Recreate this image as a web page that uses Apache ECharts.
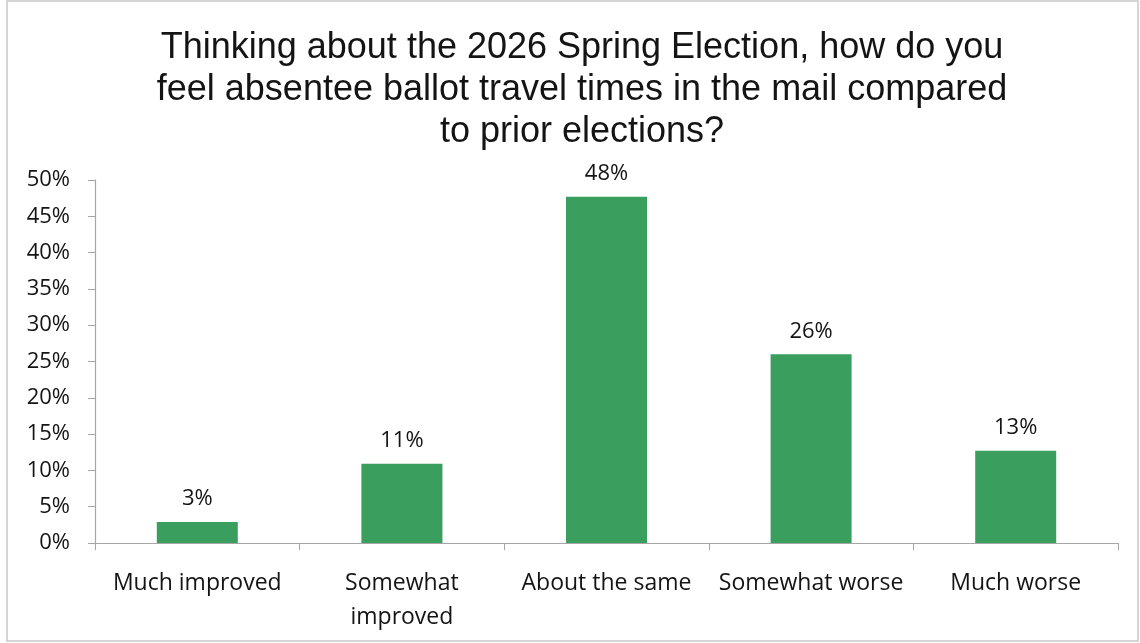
<!DOCTYPE html>
<html>
<head>
<meta charset="utf-8">
<script src="https://cdn.jsdelivr.net/npm/echarts@6/dist/echarts.min.js"></script>
<style>html,body{margin:0;padding:0;background:#fff;}#c{width:1140px;height:643px;}</style>
</head>
<body>
<div id="c"></div>
<script>
const titleText = "Thinking about the 2026 Spring Election, how do you\nfeel absentee ballot travel times in the mail compared\nto prior elections?";
const categories = ["Much improved", "Somewhat improved", "About the same", "Somewhat worse", "Much worse"];
const values = [2.9, 10.9, 47.7, 26.0, 12.7];
const yTicks = [0, 5, 10, 15, 20, 25, 30, 35, 40, 45, 50];

const chart = echarts.init(document.getElementById('c'));
chart.setOption({
  backgroundColor: '#ffffff',
  animation: false,
  title: {
    text: titleText,
    left: 577,
    textAlign: 'center',
    top: 22,
    textStyle: {fontFamily: 'Liberation Sans', fontSize: 36, fontWeight: 'normal', color: '#141414', lineHeight: 42}
  },
  graphic: [{
    type: 'rect', shape: {x: 7, y: 1, width: 1131, height: 640},
    style: {fill: 'none', stroke: '#c8c8c8', lineWidth: 1.5}, silent: true
  }],
  grid: {left: 95, right: 22, top: 180, bottom: 100, containLabel: false},
  xAxis: {
    type: 'category',
    data: categories,
    axisLine: {lineStyle: {color: '#a6a6a6', width: 1.2}},
    axisTick: {show: true, alignWithLabel: false, length: 7, lineStyle: {color: '#a6a6a6'}},
    axisLabel: {
      interval: 0, margin: 23, fontFamily: 'Open Sans', fontSize: 23, color: '#141414',
      lineHeight: 34,
      formatter: v => v === 'Somewhat improved' ? 'Somewhat\nimproved' : v
    }
  },
  yAxis: {
    type: 'value', min: 0, max: 50, interval: 5,
    splitLine: {show: false},
    axisLine: {show: true, lineStyle: {color: '#a6a6a6', width: 1.2}},
    axisTick: {show: true, length: 7, lineStyle: {color: '#a6a6a6'}},
    axisLabel: {
      margin: 25, fontFamily: 'Open Sans', fontSize: 22, color: '#141414',
      formatter: v => yTicks.includes(v) ? v + '%' : ''
    }
  },
  series: [{
    type: 'bar',
    data: values,
    barWidth: 81,
    itemStyle: {color: '#3a9e5f'},
    label: {
      show: true, position: 'top', distance: 12,
      fontFamily: 'Open Sans', fontSize: 22, color: '#141414',
      formatter: p => Math.round(p.value) + '%'
    }
  }]
});
</script>
</body>
</html>
